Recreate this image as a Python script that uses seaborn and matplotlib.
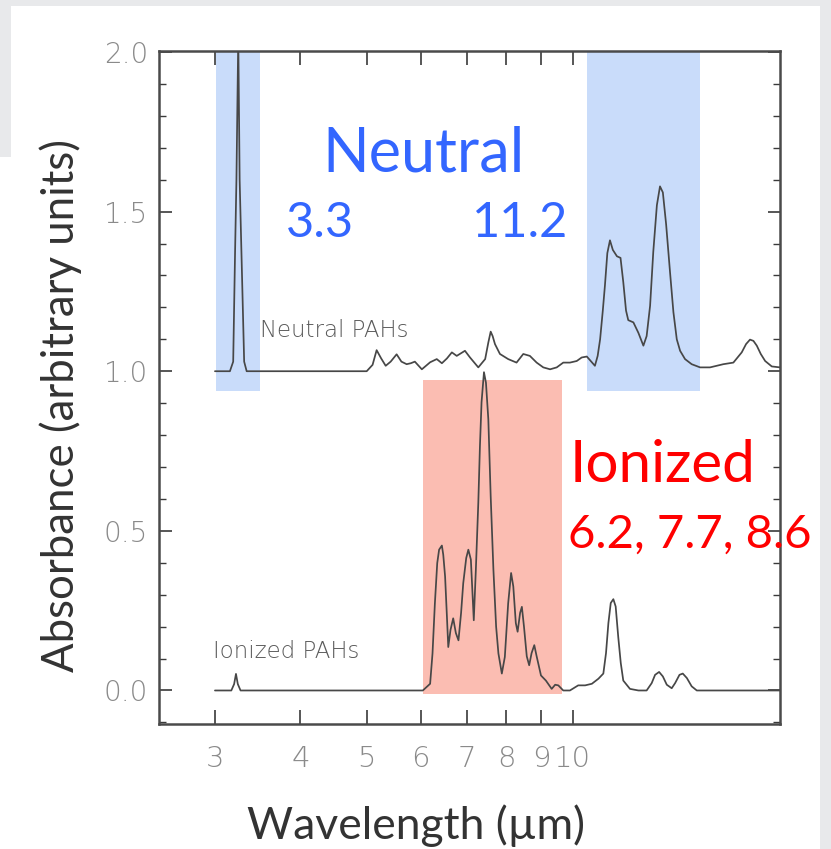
import numpy as np
import pandas as pd
import matplotlib
matplotlib.use("Agg")
import matplotlib.pyplot as plt
import seaborn as sns
from matplotlib.patches import Rectangle
from matplotlib.ticker import FixedLocator, FixedFormatter, MultipleLocator, NullLocator

# ---------------- data ----------------
neutral_wl = [3.0, 3.155, 3.19, 3.21, 3.225, 3.245, 3.26, 3.28, 3.31, 3.338,
              5.0, 5.10, 5.17, 5.25, 5.33, 5.42, 5.53, 5.62, 5.72, 5.80, 5.88,
              6.02, 6.19, 6.33, 6.44, 6.55, 6.66, 6.77, 6.96,
              7.08, 7.28, 7.45, 7.53, 7.59, 7.64, 7.70, 7.83,
              8.05, 8.28, 8.47, 8.66, 8.86,
              9.06, 9.27, 9.48, 9.69, 9.91,
              10.14, 10.31, 10.49, 10.78, 10.88, 10.97, 11.07, 11.15, 11.24, 11.34,
              11.45, 11.61, 11.75, 11.86, 11.97,
              12.06, 12.27, 12.48, 12.69, 12.83, 12.98, 13.12, 13.28, 13.42, 13.55,
              13.70, 13.88, 14.04, 14.20, 14.36, 14.60, 14.93, 15.36,
              15.88, 16.61, 17.18, 17.67, 17.93, 18.17, 18.38, 18.59, 18.84, 19.12, 19.55, 20.1]
neutral_abs = [1.0, 1.0, 1.03, 1.37, 1.6, 2.05, 1.6, 1.37, 1.03, 1.0,
               1.0, 1.02, 1.066, 1.04, 1.017, 1.03, 1.053, 1.03, 1.022, 1.025, 1.03,
               1.006, 1.028, 1.038, 1.025, 1.04, 1.059, 1.048, 1.064,
               1.043, 1.012, 1.038, 1.09, 1.124, 1.11, 1.085, 1.054,
               1.038, 1.027, 1.054, 1.048, 1.027,
               1.012, 1.006, 1.012, 1.027, 1.027,
               1.032, 1.043, 1.046, 1.017, 1.048, 1.10, 1.19, 1.269, 1.37, 1.41,
               1.38, 1.36, 1.355, 1.279, 1.19,
               1.16, 1.153, 1.12, 1.08, 1.11, 1.205, 1.374, 1.52, 1.579, 1.56,
               1.46, 1.311, 1.185, 1.10, 1.064, 1.038, 1.022, 1.012,
               1.012, 1.022, 1.027, 1.059, 1.085, 1.099, 1.095, 1.08, 1.054, 1.032, 1.015, 1.012]

ionized_wl = [3.0, 3.17, 3.20, 3.22, 3.24, 3.27,
              6.04, 6.19, 6.24, 6.29, 6.34, 6.38, 6.44, 6.47, 6.51, 6.55, 6.58, 6.63,
              6.69, 6.75, 6.81, 6.87, 6.92, 6.99,
              7.04, 7.10, 7.17, 7.22, 7.28, 7.32, 7.36, 7.42, 7.47, 7.53, 7.59, 7.66,
              7.73, 7.79, 7.88, 7.96,
              8.05, 8.13, 8.19, 8.26, 8.31, 8.38, 8.43, 8.49, 8.57, 8.64, 8.71, 8.79, 8.86, 8.99,
              9.14, 9.32, 9.43, 9.53, 9.69, 9.91,
              10.19, 10.43, 10.67, 10.91,
              11.09, 11.19, 11.28, 11.37, 11.47, 11.56, 11.66, 11.76, 11.86,
              12.13, 12.48, 12.83, 13.05, 13.20, 13.38, 13.55, 13.73, 13.96, 14.12,
              14.33, 14.49, 14.69, 14.93, 15.19, 20.1]
ionized_abs = [0.0, 0.0, 0.02, 0.052, 0.02, 0.0,
               0.0, 0.021, 0.116, 0.273, 0.399, 0.441, 0.454, 0.425, 0.357, 0.232, 0.136, 0.19,
               0.226, 0.18, 0.157, 0.243, 0.336, 0.415,
               0.441, 0.41, 0.22, 0.378, 0.588, 0.765, 0.903, 0.997, 0.964, 0.849, 0.608, 0.378,
               0.2, 0.116, 0.053, 0.105,
               0.273, 0.368, 0.326, 0.211, 0.184, 0.243, 0.262, 0.2, 0.107, 0.079, 0.117, 0.142, 0.107, 0.047,
               0.031, 0.005, 0.018, 0.016, 0.0, 0.0,
               0.016, 0.016, 0.021, 0.037,
               0.053, 0.117, 0.211, 0.274, 0.286, 0.263, 0.168, 0.086, 0.031,
               0.005, 0.0, 0.0, 0.023, 0.049, 0.058, 0.044, 0.018, 0.007, 0.023,
               0.049, 0.053, 0.039, 0.013, 0.0, 0.0]

xtick_values = [3, 4, 5, 6, 7, 8, 9, 10]
xtick_labels = ["3", "4", "5", "6", "7", "8", "9", "10"]
ytick_values = [0.0, 0.5, 1.0, 1.5, 2.0]
ytick_labels = ["0.0", "0.5", "1.0", "1.5", "2.0"]

# highlighted bands (wavelength range, absorbance range)
neutral_bands = [(3.01, 3.49), (10.5, 15.36)]
neutral_band_y = (0.937, 2.003)
ionized_band = (6.04, 9.64)
ionized_band_y = (-0.010, 0.971)

# ---------------- figure ----------------
sns.set_style("ticks")
W, H = 831, 849
fig = plt.figure(figsize=(W / 100, H / 100), dpi=100)
fig.patch.set_facecolor("#e8e9eb")
fig.add_artist(Rectangle((11 / W, 1 - 157 / H), (820 - 11) / W, (157 - 6) / H,
                         transform=fig.transFigure, facecolor="white", edgecolor="none", zorder=-10))
fig.add_artist(Rectangle((0, 0), 820 / W, 1 - 157 / H,
                         transform=fig.transFigure, facecolor="white", edgecolor="none", zorder=-10))

ax = fig.add_axes([159 / W, 1 - 724 / H, (780 - 159) / W, (724 - 51) / H])
ax.set_facecolor("white")

df = pd.concat([
    pd.DataFrame({"wl": neutral_wl, "abs": neutral_abs, "series": "Neutral PAHs"}),
    pd.DataFrame({"wl": ionized_wl, "abs": ionized_abs, "series": "Ionized PAHs"}),
])

for x0, x1 in neutral_bands:
    ax.fill_between([x0, x1], [neutral_band_y[0]] * 2, [neutral_band_y[1]] * 2,
                    color="#c9dcfa", lw=0, zorder=0)
ax.fill_between(list(ionized_band), [ionized_band_y[0]] * 2, [ionized_band_y[1]] * 2,
                color="#fbbdb2", lw=0, zorder=0)

sns.lineplot(data=df, x="wl", y="abs", hue="series", units="series", estimator=None,
             sort=False, palette={"Neutral PAHs": "#474747", "Ionized PAHs": "#474747"},
             linewidth=1.25, legend=False, ax=ax, zorder=3)
for ln in ax.get_lines():
    ln.set_solid_joinstyle("round")

ax.set_xscale("log")
ax.set_xlim(2.485, 20.1)
ax.set_ylim(-0.105, 2.003)
ax.xaxis.set_major_locator(FixedLocator(xtick_values))
ax.xaxis.set_major_formatter(FixedFormatter(xtick_labels))
ax.xaxis.set_minor_locator(NullLocator())
ax.yaxis.set_major_locator(FixedLocator(ytick_values))
ax.yaxis.set_major_formatter(FixedFormatter(ytick_labels))
ax.yaxis.set_minor_locator(MultipleLocator(0.1))
ax.set_xlabel("")
ax.set_ylabel("")

ax.tick_params(axis="both", which="both", direction="in", top=True, right=True, color="#3a3a3a")
ax.tick_params(axis="x", which="major", length=10, width=1.2, pad=15, labelsize=21, labelcolor="#8a8a8a")
ax.tick_params(axis="y", which="major", length=9, width=1.2, pad=8, labelsize=20, labelcolor="#8a8a8a")
ax.tick_params(axis="y", which="minor", length=5, width=1.0)
for lab in ax.get_xticklabels() + ax.get_yticklabels():
    lab.set_fontweight("light")
for s in ax.spines.values():
    s.set_color("#4a4a4a")
    s.set_linewidth(1.8)

# in-plot labels
ax.text(3.49, 1.126, "Neutral PAHs", fontsize=16.5, color="#5a5a5a", va="center", ha="left",
        family="DejaVu Sans", fontweight="light")
ax.text(2.98, 0.123, "Ionized PAHs", fontsize=16.5, color="#5a5a5a", va="center", ha="left",
        family="DejaVu Sans", fontweight="light")

fam = ["Lato", "DejaVu Sans"]
def fx(px):
    return px / W
def fy(py):
    return 1 - py / H

blue = "#3366ff"
red = "#ff0000"
fig.text(fx(424), fy(171.5), "Neutral", fontsize=44, color=blue, ha="center", va="baseline", family=fam)
fig.text(fx(320), fy(237), "3.3", fontsize=35, color=blue, ha="center", va="baseline", family=fam)
fig.text(fx(520), fy(237), "11.2", fontsize=35, color=blue, ha="center", va="baseline", family=fam)
fig.text(fx(570), fy(482), "Ionized", fontsize=42, color=red, ha="left", va="baseline", family=fam)
fig.text(fx(568), fy(548), "6.2, 7.7, 8.6", fontsize=34, color=red, ha="left", va="baseline", family=fam)

fig.text(fx(416), fy(839), "Wavelength (\u00b5m)", fontsize=32, color="#333333", ha="center",
         va="baseline", family=fam)
fig.text(fx(74), fy(405), "Absorbance (arbitrary units)", fontsize=31.5, color="#333333",
         rotation=90, ha="center", va="baseline", family=fam, rotation_mode="anchor")

fig.savefig("out.png", dpi=100, facecolor=fig.get_facecolor())
